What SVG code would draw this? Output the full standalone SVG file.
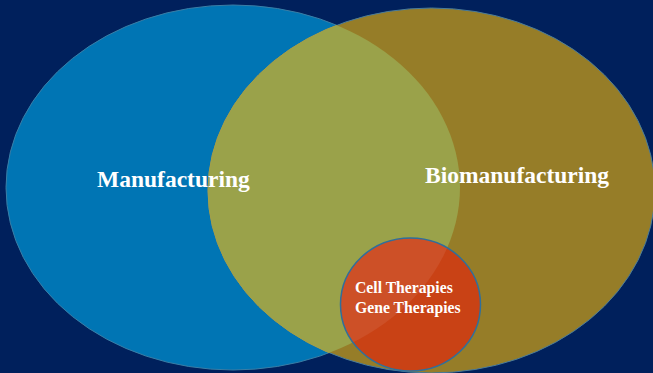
<svg xmlns="http://www.w3.org/2000/svg" width="653" height="373" viewBox="0 0 653 373">
<defs>
<style>
.lbl{font-family:"Liberation Serif","Times New Roman",serif;font-weight:bold;fill:#ffffff}
.big{font-size:23.5px}
.small{font-size:15.7px}
</style>
<clipPath id="clipBlue"><ellipse cx="233" cy="187.5" rx="227" ry="182.5"/></clipPath>
</defs>
<rect x="0" y="0" width="653" height="373" fill="#00205c"/>
<g id="manufacturing">
<ellipse cx="233" cy="187.5" rx="227" ry="182.5" fill="#0075b4" stroke="#3a7ea6" stroke-width="1"/>
</g>
<g id="biomanufacturing">
<ellipse cx="431.5" cy="190.5" rx="223.5" ry="182.5" fill="#967d28" stroke="#4a7c9a" stroke-width="1"/>
<ellipse cx="431.5" cy="190.5" rx="223.5" ry="182.5" fill="#9aa24a" stroke="#a3a04a" stroke-width="1" clip-path="url(#clipBlue)"/>
</g>
<g id="therapies">
<ellipse cx="410.5" cy="304.5" rx="70" ry="66.5" fill="#c94215"/>
<ellipse cx="410.5" cy="304.5" rx="70" ry="66.5" fill="#cd5027" clip-path="url(#clipBlue)"/>
<ellipse cx="410.5" cy="304.5" rx="70" ry="66.5" fill="none" stroke="#2f6f9c" stroke-width="1.5"/>
</g>
<g id="connectors"></g>
<g id="labels">
<text class="lbl big" x="97" y="187">Manufacturing</text>
<text class="lbl big" x="425" y="182.5">Biomanufacturing</text>
<text class="lbl small" x="355" y="293">Cell Therapies</text>
<text class="lbl small" x="355" y="313">Gene Therapies</text>
</g>
</svg>
